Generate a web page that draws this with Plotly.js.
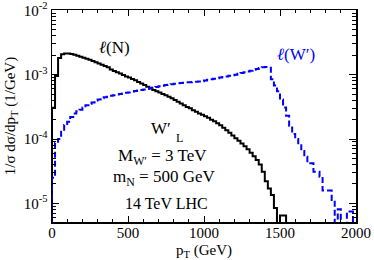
<!DOCTYPE html>
<html>
<head>
<meta charset="utf-8">
<script src="https://cdn.plot.ly/plotly-3.0.1.min.js"></script>
<style>
html,body{margin:0;padding:0;background:#fff;}
#chart{width:374px;height:260px;}
</style>
</head>
<body>
<div id="chart"></div>
<script>
// Histogram bin width (GeV) and bin lower edges
var binWidth = 20;

// l(N) distribution, 1/sigma dsigma/dpT per 20 GeV bin starting at 0 GeV
var leptonN = [
  3.05e-4, 9.5e-4, 1.82e-3, 2.08e-3, 2.14e-3, 2.13e-3, 2.10e-3, 2.04e-3, 1.97e-3, 1.90e-3,
  1.83e-3, 1.76e-3, 1.70e-3, 1.63e-3, 1.56e-3, 1.49e-3, 1.42e-3, 1.36e-3, 1.30e-3, 1.20e-3,
  1.14e-3, 1.09e-3, 1.04e-3, 0.99e-3, 0.94e-3, 0.90e-3, 0.86e-3, 0.82e-3, 0.77e-3, 0.73e-3,
  0.69e-3, 0.65e-3, 0.61e-3, 0.575e-3, 0.55e-3, 0.53e-3, 0.50e-3, 0.48e-3, 0.455e-3, 0.43e-3,
  0.405e-3, 0.38e-3, 0.355e-3, 0.335e-3, 0.315e-3, 0.30e-3, 0.28e-3, 0.265e-3, 0.25e-3, 0.238e-3,
  0.226e-3, 0.213e-3, 0.200e-3, 0.188e-3, 0.176e-3, 0.163e-3, 0.150e-3, 0.137e-3, 0.125e-3, 0.113e-3,
  0.103e-3, 0.094e-3, 0.085e-3, 0.077e-3, 0.069e-3, 0.061e-3, 0.054e-3, 0.047e-3, 0.040e-3, 0.031e-3,
  0.022e-3, 0.017e-3, 0.0135e-3, 0.0085e-3, 0, 6.5e-6, 6.5e-6, 0
];

// l(W') distribution, same binning
var leptonW = [
  2.5e-5, 8.7e-5, 1.0e-4, 1.3e-4, 1.65e-4, 1.85e-4, 2.2e-4, 2.5e-4, 2.7e-4, 2.85e-4,
  3.1e-4, 3.35e-4, 3.5e-4, 3.7e-4, 3.95e-4, 4.1e-4, 4.3e-4, 4.45e-4, 4.55e-4, 4.7e-4,
  4.8e-4, 4.9e-4, 5.0e-4, 5.1e-4, 5.25e-4, 5.3e-4, 5.45e-4, 5.55e-4, 5.65e-4, 5.75e-4,
  5.9e-4, 6.05e-4, 6.2e-4, 6.3e-4, 6.45e-4, 6.6e-4, 6.75e-4, 6.9e-4, 7.0e-4, 7.1e-4,
  7.25e-4, 7.35e-4, 7.45e-4, 7.5e-4, 7.6e-4, 7.65e-4, 7.7e-4, 7.75e-4, 7.8e-4, 7.9e-4,
  8.1e-4, 8.3e-4, 8.45e-4, 8.65e-4, 8.8e-4, 9.0e-4, 9.2e-4, 9.4e-4, 9.6e-4, 9.8e-4,
  1.0e-3, 1.03e-3, 1.06e-3, 1.09e-3, 1.12e-3, 1.15e-3, 1.19e-3, 1.23e-3, 1.27e-3, 1.30e-3,
  1.31e-3, 1.28e-3, 8.5e-4, 6.8e-4, 5.5e-4, 4.1e-4, 3.1e-4, 2.3e-4, 1.6e-4, 1.2e-4,
  1.0e-4, 8.0e-5, 6.5e-5, 5.3e-5, 4.2e-5, 4.2e-5, 3.1e-5, 3.1e-5, 2.6e-5, 1.58e-5,
  1.58e-5, 1.58e-5, 1.13e-5, 0, 8.1e-6, 0, 0, 7.5e-6, 7.5e-6, 0
];

var yTickVals = [1e-5, 1e-4, 1e-3, 1e-2];
var yTickText = ['10<sup>-5</sup>', '10<sup>-4</sup>', '10<sup>-3</sup>', '10<sup>-2</sup>'];
var xTickVals = [0, 500, 1000, 1500, 2000];
var xTickText = ['0', '500', '1000', '1500', '2000'];

var FLOOR = 1e-9; // empty bins are drawn down to below the axis floor

function stepTrace(vals, color, dash) {
  var xs = [0], ys = [FLOOR];
  for (var i = 0; i < vals.length; i++) {
    xs.push(i * binWidth);
    ys.push(vals[i] > 0 ? vals[i] : FLOOR);
  }
  xs.push(vals.length * binWidth);
  ys.push(vals[vals.length - 1] > 0 ? vals[vals.length - 1] : FLOOR);
  return {
    x: xs, y: ys, type: 'scatter', mode: 'lines',
    line: {shape: 'hv', color: color, width: 2, dash: dash},
    hoverinfo: 'skip', showlegend: false, cliponaxis: true
  };
}

var traces = [
  stepTrace(leptonN, '#000000', 'solid'),
  stepTrace(leptonW, '#0000ff', '6px,3px')
];

var serif = '"Liberation Serif", "Times New Roman", serif';

function ann(text, x, y, size, color) {
  return {text: text, x: x, y: y, xref: 'paper', yref: 'paper', showarrow: false,
          xanchor: 'center', yanchor: 'middle',
          font: {family: serif, size: size, color: color || '#000'}};
}

var layout = {
  width: 374, height: 260,
  margin: {l: 52, r: 18, t: 10, b: 38},
  paper_bgcolor: '#fff', plot_bgcolor: '#fff',
  font: {family: serif, size: 15, color: '#000'},
  showlegend: false,
  xaxis: {
    range: [0, 2000], showgrid: false, zeroline: false,
    showline: true, linecolor: '#000', linewidth: 1.5, mirror: 'ticks',
    ticks: 'inside', ticklen: 6, tickwidth: 1, tickcolor: '#000',
    tickmode: 'array', tickvals: xTickVals, ticktext: xTickText,
    tickfont: {family: serif, size: 15}, ticklabelstandoff: -4,
    minor: {tickmode: 'linear', dtick: 100, ticks: 'inside', ticklen: 3, tickcolor: '#000', showgrid: false},
    title: {text: 'p<sub>T</sub> (GeV)', font: {family: serif, size: 15}, standoff: 10}
  },
  yaxis: {
    type: 'log', range: [-5.29, -1.995], showgrid: false, zeroline: false,
    showline: true, linecolor: '#000', linewidth: 1.5, mirror: 'ticks',
    ticks: 'inside', ticklen: 7, tickwidth: 1, tickcolor: '#000',
    tickmode: 'array', tickvals: yTickVals, ticktext: yTickText,
    tickfont: {family: serif, size: 15},
    minor: {tickmode: 'linear', dtick: 'D1', ticks: 'inside', ticklen: 4, tickcolor: '#000', showgrid: false},
    title: {text: '1/σ dσ/dp<sub>T</sub> (1/GeV)', font: {family: serif, size: 15}, standoff: 4}
  },
  annotations: [
    ann('<i>ℓ</i>(N)', 0.204, 0.821, 17),
    ann('<i>ℓ</i>(W′)', 0.803, 0.788, 17, '#0000ff'),
    ann('W′', 0.359, 0.44, 17),
    ann('L', 0.418, 0.395, 12),
    ann('M<sub>W′</sub> = 3 TeV', 0.363, 0.305, 17),
    ann('m<sub>N</sub> = 500 GeV', 0.368, 0.207, 17),
    ann('14 TeV LHC', 0.375, 0.0896, 16)
  ]
};

Plotly.newPlot('chart', traces, layout, {staticPlot: true, displayModeBar: false});
</script>
</body>
</html>
